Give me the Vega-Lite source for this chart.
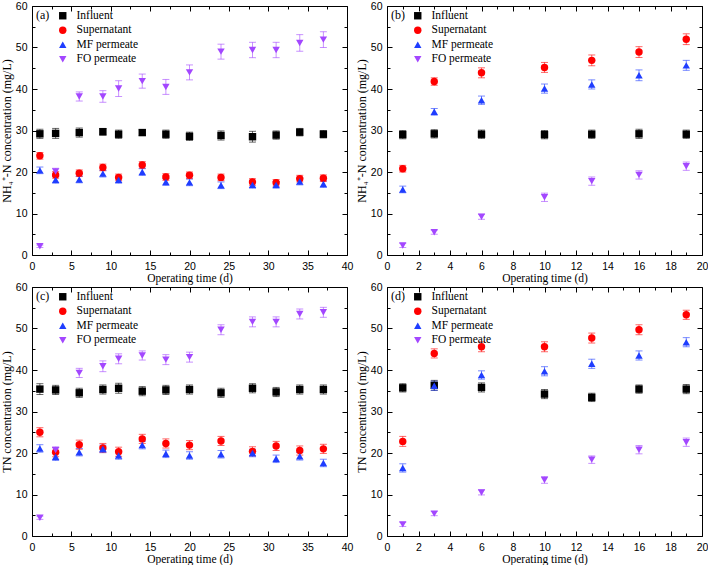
{
"$schema": "https://vega.github.io/schema/vega-lite/v6.json",
"padding": {"left": 0, "top": 1, "right": 0, "bottom": 0},
"background": "white",
"data": {"values": [
{"p":"a","s":"Influent","t":1,"v":29.2,"e":1.1},{"p":"a","s":"Influent","t":3,"v":29.3,"e":1.2},{"p":"a","s":"Influent","t":6,"v":29.5,"e":1.1},{"p":"a","s":"Influent","t":9,"v":29.7,"e":0.8},{"p":"a","s":"Influent","t":11,"v":29.1,"e":1.0},{"p":"a","s":"Influent","t":14,"v":29.5,"e":0.7},{"p":"a","s":"Influent","t":17,"v":29.1,"e":1.0},{"p":"a","s":"Influent","t":20,"v":28.6,"e":1.0},{"p":"a","s":"Influent","t":24,"v":28.8,"e":1.1},{"p":"a","s":"Influent","t":28,"v":28.5,"e":1.3},{"p":"a","s":"Influent","t":31,"v":28.9,"e":1.0},{"p":"a","s":"Influent","t":34,"v":29.6,"e":0.9},{"p":"a","s":"Influent","t":37,"v":29.1,"e":0.9},
{"p":"a","s":"Supernatant","t":1,"v":23.9,"e":0.8},{"p":"a","s":"Supernatant","t":3,"v":19.3,"e":0.8},{"p":"a","s":"Supernatant","t":6,"v":19.7,"e":0.8},{"p":"a","s":"Supernatant","t":9,"v":21.1,"e":0.8},{"p":"a","s":"Supernatant","t":11,"v":18.7,"e":0.8},{"p":"a","s":"Supernatant","t":14,"v":21.7,"e":0.8},{"p":"a","s":"Supernatant","t":17,"v":18.8,"e":0.8},{"p":"a","s":"Supernatant","t":20,"v":19.2,"e":0.8},{"p":"a","s":"Supernatant","t":24,"v":18.7,"e":0.8},{"p":"a","s":"Supernatant","t":28,"v":17.6,"e":0.8},{"p":"a","s":"Supernatant","t":31,"v":17.4,"e":0.8},{"p":"a","s":"Supernatant","t":34,"v":18.4,"e":0.8},{"p":"a","s":"Supernatant","t":37,"v":18.5,"e":0.8},
{"p":"a","s":"MF permeate","t":1,"v":20.4,"e":0.8},{"p":"a","s":"MF permeate","t":3,"v":18.1,"e":0.8},{"p":"a","s":"MF permeate","t":6,"v":18.2,"e":0.8},{"p":"a","s":"MF permeate","t":9,"v":19.6,"e":0.8},{"p":"a","s":"MF permeate","t":11,"v":18.1,"e":0.8},{"p":"a","s":"MF permeate","t":14,"v":20.0,"e":0.8},{"p":"a","s":"MF permeate","t":17,"v":17.6,"e":0.8},{"p":"a","s":"MF permeate","t":20,"v":17.5,"e":0.8},{"p":"a","s":"MF permeate","t":24,"v":16.8,"e":0.8},{"p":"a","s":"MF permeate","t":28,"v":16.9,"e":0.8},{"p":"a","s":"MF permeate","t":31,"v":16.9,"e":0.8},{"p":"a","s":"MF permeate","t":34,"v":17.7,"e":0.8},{"p":"a","s":"MF permeate","t":37,"v":17.1,"e":0.8},
{"p":"a","s":"FO permeate","t":1,"v":2.1,"e":0.3},{"p":"a","s":"FO permeate","t":3,"v":20.1,"e":0.8},{"p":"a","s":"FO permeate","t":6,"v":38.2,"e":1.1},{"p":"a","s":"FO permeate","t":9,"v":38.2,"e":1.4},{"p":"a","s":"FO permeate","t":11,"v":40.1,"e":1.9},{"p":"a","s":"FO permeate","t":14,"v":41.9,"e":1.7},{"p":"a","s":"FO permeate","t":17,"v":40.5,"e":1.8},{"p":"a","s":"FO permeate","t":20,"v":44.0,"e":1.8},{"p":"a","s":"FO permeate","t":24,"v":49.0,"e":1.8},{"p":"a","s":"FO permeate","t":28,"v":49.4,"e":1.85},{"p":"a","s":"FO permeate","t":31,"v":49.4,"e":1.85},{"p":"a","s":"FO permeate","t":34,"v":51.1,"e":2.0},{"p":"a","s":"FO permeate","t":37,"v":51.9,"e":1.9},
{"p":"b","s":"Influent","t":1,"v":29.0,"e":1.0},{"p":"b","s":"Influent","t":3,"v":29.2,"e":1.0},{"p":"b","s":"Influent","t":6,"v":29.1,"e":1.0},{"p":"b","s":"Influent","t":10,"v":29.0,"e":1.0},{"p":"b","s":"Influent","t":13,"v":29.1,"e":1.0},{"p":"b","s":"Influent","t":16,"v":29.2,"e":1.1},{"p":"b","s":"Influent","t":19,"v":29.1,"e":1.0},
{"p":"b","s":"Supernatant","t":1,"v":20.8,"e":0.8},{"p":"b","s":"Supernatant","t":3,"v":41.8,"e":0.9},{"p":"b","s":"Supernatant","t":6,"v":43.9,"e":1.2},{"p":"b","s":"Supernatant","t":10,"v":45.2,"e":1.2},{"p":"b","s":"Supernatant","t":13,"v":46.9,"e":1.3},{"p":"b","s":"Supernatant","t":16,"v":48.9,"e":1.3},{"p":"b","s":"Supernatant","t":19,"v":52.0,"e":1.3},
{"p":"b","s":"MF permeate","t":1,"v":15.8,"e":0.8},{"p":"b","s":"MF permeate","t":3,"v":34.5,"e":0.8},{"p":"b","s":"MF permeate","t":6,"v":37.3,"e":1.0},{"p":"b","s":"MF permeate","t":10,"v":40.1,"e":1.1},{"p":"b","s":"MF permeate","t":13,"v":41.1,"e":1.1},{"p":"b","s":"MF permeate","t":16,"v":43.3,"e":1.3},{"p":"b","s":"MF permeate","t":19,"v":45.7,"e":1.2},
{"p":"b","s":"FO permeate","t":1,"v":2.3,"e":0.5},{"p":"b","s":"FO permeate","t":3,"v":5.5,"e":0.5},{"p":"b","s":"FO permeate","t":6,"v":9.2,"e":0.6},{"p":"b","s":"FO permeate","t":10,"v":13.9,"e":1.0},{"p":"b","s":"FO permeate","t":13,"v":17.8,"e":1.0},{"p":"b","s":"FO permeate","t":16,"v":19.3,"e":1.0},{"p":"b","s":"FO permeate","t":19,"v":21.4,"e":1.0},
{"p":"c","s":"Influent","t":1,"v":35.4,"e":1.3},{"p":"c","s":"Influent","t":3,"v":35.2,"e":1.1},{"p":"c","s":"Influent","t":6,"v":34.5,"e":1.1},{"p":"c","s":"Influent","t":9,"v":35.3,"e":1.1},{"p":"c","s":"Influent","t":11,"v":35.6,"e":1.2},{"p":"c","s":"Influent","t":14,"v":34.9,"e":1.1},{"p":"c","s":"Influent","t":17,"v":35.2,"e":1.1},{"p":"c","s":"Influent","t":20,"v":35.3,"e":1.1},{"p":"c","s":"Influent","t":24,"v":34.5,"e":1.1},{"p":"c","s":"Influent","t":28,"v":35.6,"e":1.1},{"p":"c","s":"Influent","t":31,"v":34.7,"e":1.1},{"p":"c","s":"Influent","t":34,"v":35.3,"e":1.1},{"p":"c","s":"Influent","t":37,"v":35.3,"e":1.1},
{"p":"c","s":"Supernatant","t":1,"v":25.0,"e":1.1},{"p":"c","s":"Supernatant","t":3,"v":20.2,"e":1.1},{"p":"c","s":"Supernatant","t":6,"v":22.0,"e":1.1},{"p":"c","s":"Supernatant","t":9,"v":21.2,"e":1.1},{"p":"c","s":"Supernatant","t":11,"v":20.3,"e":1.1},{"p":"c","s":"Supernatant","t":14,"v":23.4,"e":1.1},{"p":"c","s":"Supernatant","t":17,"v":22.3,"e":1.1},{"p":"c","s":"Supernatant","t":20,"v":21.9,"e":1.1},{"p":"c","s":"Supernatant","t":24,"v":22.9,"e":1.1},{"p":"c","s":"Supernatant","t":28,"v":20.4,"e":1.1},{"p":"c","s":"Supernatant","t":31,"v":21.7,"e":1.1},{"p":"c","s":"Supernatant","t":34,"v":20.6,"e":1.1},{"p":"c","s":"Supernatant","t":37,"v":21.0,"e":1.1},
{"p":"c","s":"MF permeate","t":1,"v":21.1,"e":0.9},{"p":"c","s":"MF permeate","t":3,"v":19.1,"e":0.9},{"p":"c","s":"MF permeate","t":6,"v":20.2,"e":0.9},{"p":"c","s":"MF permeate","t":9,"v":21.0,"e":0.9},{"p":"c","s":"MF permeate","t":11,"v":19.4,"e":0.9},{"p":"c","s":"MF permeate","t":14,"v":21.9,"e":0.9},{"p":"c","s":"MF permeate","t":17,"v":19.8,"e":0.9},{"p":"c","s":"MF permeate","t":20,"v":19.4,"e":0.9},{"p":"c","s":"MF permeate","t":24,"v":19.7,"e":0.9},{"p":"c","s":"MF permeate","t":28,"v":20.0,"e":0.9},{"p":"c","s":"MF permeate","t":31,"v":18.6,"e":0.9},{"p":"c","s":"MF permeate","t":34,"v":19.2,"e":0.9},{"p":"c","s":"MF permeate","t":37,"v":17.6,"e":0.9},
{"p":"c","s":"FO permeate","t":1,"v":4.4,"e":0.4},{"p":"c","s":"FO permeate","t":3,"v":20.7,"e":0.8},{"p":"c","s":"FO permeate","t":6,"v":39.3,"e":1.1},{"p":"c","s":"FO permeate","t":9,"v":40.9,"e":1.3},{"p":"c","s":"FO permeate","t":11,"v":42.7,"e":1.2},{"p":"c","s":"FO permeate","t":14,"v":43.5,"e":1.1},{"p":"c","s":"FO permeate","t":17,"v":42.5,"e":1.2},{"p":"c","s":"FO permeate","t":20,"v":43.1,"e":1.2},{"p":"c","s":"FO permeate","t":24,"v":49.7,"e":1.2},{"p":"c","s":"FO permeate","t":28,"v":51.6,"e":1.2},{"p":"c","s":"FO permeate","t":31,"v":51.6,"e":1.2},{"p":"c","s":"FO permeate","t":34,"v":53.5,"e":1.2},{"p":"c","s":"FO permeate","t":37,"v":53.9,"e":1.2},
{"p":"d","s":"Influent","t":1,"v":35.7,"e":1.0},{"p":"d","s":"Influent","t":3,"v":36.3,"e":1.2},{"p":"d","s":"Influent","t":6,"v":35.8,"e":1.1},{"p":"d","s":"Influent","t":10,"v":34.2,"e":1.1},{"p":"d","s":"Influent","t":13,"v":33.4,"e":1.0},{"p":"d","s":"Influent","t":16,"v":35.4,"e":1.0},{"p":"d","s":"Influent","t":19,"v":35.4,"e":1.1},
{"p":"d","s":"Supernatant","t":1,"v":22.8,"e":1.2},{"p":"d","s":"Supernatant","t":3,"v":44.0,"e":1.1},{"p":"d","s":"Supernatant","t":6,"v":45.6,"e":1.2},{"p":"d","s":"Supernatant","t":10,"v":45.6,"e":1.2},{"p":"d","s":"Supernatant","t":13,"v":47.7,"e":1.2},{"p":"d","s":"Supernatant","t":16,"v":49.7,"e":1.2},{"p":"d","s":"Supernatant","t":19,"v":53.3,"e":1.1},
{"p":"d","s":"MF permeate","t":1,"v":16.4,"e":1.0},{"p":"d","s":"MF permeate","t":3,"v":36.2,"e":1.1},{"p":"d","s":"MF permeate","t":6,"v":38.8,"e":1.0},{"p":"d","s":"MF permeate","t":10,"v":39.7,"e":1.1},{"p":"d","s":"MF permeate","t":13,"v":41.5,"e":1.1},{"p":"d","s":"MF permeate","t":16,"v":43.5,"e":1.1},{"p":"d","s":"MF permeate","t":19,"v":46.7,"e":1.1},
{"p":"d","s":"FO permeate","t":1,"v":2.8,"e":0.5},{"p":"d","s":"FO permeate","t":3,"v":5.4,"e":0.5},{"p":"d","s":"FO permeate","t":6,"v":10.5,"e":0.6},{"p":"d","s":"FO permeate","t":10,"v":13.5,"e":0.8},{"p":"d","s":"FO permeate","t":13,"v":18.4,"e":0.9},{"p":"d","s":"FO permeate","t":16,"v":20.8,"e":1.0},{"p":"d","s":"FO permeate","t":19,"v":22.6,"e":1.0}
]},
"columns": 2,
"spacing": {"row": 32, "column": 40},
"bounds": "flush",
"resolve": {"scale": {"color": "independent", "shape": "independent"}},
"concat": [
{"width": 315, "height": 249, "transform": [{"filter": "datum.p === 'a'"}],
 "layer": [
  {"mark": {"type": "errorbar", "ticks": {"size": 7, "opacity": 0.6}, "rule": {"opacity": 0.6}},
   "encoding": {
    "x": {"field": "t", "type": "quantitative", "scale": {"domain": [0, 40], "nice": false}, "axis": {"orient": "bottom", "values": [0,5,10,15,20,25,30,35,40], "title": "Operating time (d)"}},
    "y": {"field": "v", "type": "quantitative", "scale": {"domain": [0, 60], "nice": false}, "axis": {"orient": "left", "values": [0,10,20,30,40,50,60], "title": "NH₄⁺-N concentration (mg/L)"}},
    "yError": {"field": "e"},
    "color": {"field": "s", "type": "nominal", "scale": {"domain": ["Influent","Supernatant","MF permeate","FO permeate"], "range": ["#000000","#ff0000","#1f3dff","#a347ff"]}, "legend": null}}},
  {"mark": {"type": "point", "filled": true, "size": 55, "opacity": 1},
   "encoding": {
    "x": {"field": "t", "type": "quantitative", "axis": {"orient": "top", "values": [0,5,10,15,20,25,30,35,40], "labels": false, "title": null}},
    "y": {"field": "v", "type": "quantitative", "axis": {"orient": "right", "values": [0,10,20,30,40,50,60], "labels": false, "title": null}},
    "color": {"field": "s", "type": "nominal", "scale": {"domain": ["Influent","Supernatant","MF permeate","FO permeate"], "range": ["#000000","#ff0000","#1f3dff","#a347ff"]}, "legend": {"title": "(a)"}},
    "shape": {"field": "s", "type": "nominal", "scale": {"domain": ["Influent","Supernatant","MF permeate","FO permeate"], "range": ["square","circle","triangle-up","triangle-down"]}, "legend": {"title": "(a)"}}}},
  {"mark": {"type": "point", "opacity": 0},
   "encoding": {
    "x": {"field": "t", "type": "quantitative", "axis": {"orient": "bottom", "values": [2.5,7.5,12.5,17.5,22.5,27.5,32.5,37.5], "labels": false, "domain": false, "title": null, "tickSize": -3}},
    "y": {"field": "v", "type": "quantitative", "axis": {"orient": "left", "values": [5,15,25,35,45,55], "labels": false, "domain": false, "title": null, "tickSize": -3}}}},
  {"mark": {"type": "point", "opacity": 0},
   "encoding": {
    "x": {"field": "t", "type": "quantitative", "axis": {"orient": "top", "values": [2.5,7.5,12.5,17.5,22.5,27.5,32.5,37.5], "labels": false, "domain": false, "title": null, "tickSize": -3}},
    "y": {"field": "v", "type": "quantitative", "axis": {"orient": "right", "values": [5,15,25,35,45,55], "labels": false, "domain": false, "title": null, "tickSize": -3}}}}
 ],
 "resolve": {"axis": {"x": "independent", "y": "independent"}, "scale": {"color": "independent", "shape": "independent"}}},
{"width": 315, "height": 249, "transform": [{"filter": "datum.p === 'b'"}],
 "layer": [
  {"mark": {"type": "errorbar", "ticks": {"size": 7, "opacity": 0.6}, "rule": {"opacity": 0.6}},
   "encoding": {
    "x": {"field": "t", "type": "quantitative", "scale": {"domain": [0, 20], "nice": false}, "axis": {"orient": "bottom", "values": [0,2,4,6,8,10,12,14,16,18,20], "title": "Operating time (d)"}},
    "y": {"field": "v", "type": "quantitative", "scale": {"domain": [0, 60], "nice": false}, "axis": {"orient": "left", "values": [0,10,20,30,40,50,60], "title": "NH₄⁺-N concentration (mg/L)"}},
    "yError": {"field": "e"},
    "color": {"field": "s", "type": "nominal", "scale": {"domain": ["Influent","Supernatant","MF permeate","FO permeate"], "range": ["#000000","#ff0000","#1f3dff","#a347ff"]}, "legend": null}}},
  {"mark": {"type": "point", "filled": true, "size": 55, "opacity": 1},
   "encoding": {
    "x": {"field": "t", "type": "quantitative", "axis": {"orient": "top", "values": [0,2,4,6,8,10,12,14,16,18,20], "labels": false, "title": null}},
    "y": {"field": "v", "type": "quantitative", "axis": {"orient": "right", "values": [0,10,20,30,40,50,60], "labels": false, "title": null}},
    "color": {"field": "s", "type": "nominal", "scale": {"domain": ["Influent","Supernatant","MF permeate","FO permeate"], "range": ["#000000","#ff0000","#1f3dff","#a347ff"]}, "legend": {"title": "(b)"}},
    "shape": {"field": "s", "type": "nominal", "scale": {"domain": ["Influent","Supernatant","MF permeate","FO permeate"], "range": ["square","circle","triangle-up","triangle-down"]}, "legend": {"title": "(b)"}}}},
  {"mark": {"type": "point", "opacity": 0},
   "encoding": {
    "x": {"field": "t", "type": "quantitative", "axis": {"orient": "bottom", "values": [1,3,5,7,9,11,13,15,17,19], "labels": false, "domain": false, "title": null, "tickSize": -3}},
    "y": {"field": "v", "type": "quantitative", "axis": {"orient": "left", "values": [5,15,25,35,45,55], "labels": false, "domain": false, "title": null, "tickSize": -3}}}},
  {"mark": {"type": "point", "opacity": 0},
   "encoding": {
    "x": {"field": "t", "type": "quantitative", "axis": {"orient": "top", "values": [1,3,5,7,9,11,13,15,17,19], "labels": false, "domain": false, "title": null, "tickSize": -3}},
    "y": {"field": "v", "type": "quantitative", "axis": {"orient": "right", "values": [5,15,25,35,45,55], "labels": false, "domain": false, "title": null, "tickSize": -3}}}}
 ],
 "resolve": {"axis": {"x": "independent", "y": "independent"}, "scale": {"color": "independent", "shape": "independent"}}},
{"width": 315, "height": 249, "transform": [{"filter": "datum.p === 'c'"}],
 "layer": [
  {"mark": {"type": "errorbar", "ticks": {"size": 7, "opacity": 0.6}, "rule": {"opacity": 0.6}},
   "encoding": {
    "x": {"field": "t", "type": "quantitative", "scale": {"domain": [0, 40], "nice": false}, "axis": {"orient": "bottom", "values": [0,5,10,15,20,25,30,35,40], "title": "Operating time (d)"}},
    "y": {"field": "v", "type": "quantitative", "scale": {"domain": [0, 60], "nice": false}, "axis": {"orient": "left", "values": [0,10,20,30,40,50,60], "title": "TN concentration (mg/L)"}},
    "yError": {"field": "e"},
    "color": {"field": "s", "type": "nominal", "scale": {"domain": ["Influent","Supernatant","MF permeate","FO permeate"], "range": ["#000000","#ff0000","#1f3dff","#a347ff"]}, "legend": null}}},
  {"mark": {"type": "point", "filled": true, "size": 55, "opacity": 1},
   "encoding": {
    "x": {"field": "t", "type": "quantitative", "axis": {"orient": "top", "values": [0,5,10,15,20,25,30,35,40], "labels": false, "title": null}},
    "y": {"field": "v", "type": "quantitative", "axis": {"orient": "right", "values": [0,10,20,30,40,50,60], "labels": false, "title": null}},
    "color": {"field": "s", "type": "nominal", "scale": {"domain": ["Influent","Supernatant","MF permeate","FO permeate"], "range": ["#000000","#ff0000","#1f3dff","#a347ff"]}, "legend": {"title": "(c)"}},
    "shape": {"field": "s", "type": "nominal", "scale": {"domain": ["Influent","Supernatant","MF permeate","FO permeate"], "range": ["square","circle","triangle-up","triangle-down"]}, "legend": {"title": "(c)"}}}},
  {"mark": {"type": "point", "opacity": 0},
   "encoding": {
    "x": {"field": "t", "type": "quantitative", "axis": {"orient": "bottom", "values": [2.5,7.5,12.5,17.5,22.5,27.5,32.5,37.5], "labels": false, "domain": false, "title": null, "tickSize": -3}},
    "y": {"field": "v", "type": "quantitative", "axis": {"orient": "left", "values": [5,15,25,35,45,55], "labels": false, "domain": false, "title": null, "tickSize": -3}}}},
  {"mark": {"type": "point", "opacity": 0},
   "encoding": {
    "x": {"field": "t", "type": "quantitative", "axis": {"orient": "top", "values": [2.5,7.5,12.5,17.5,22.5,27.5,32.5,37.5], "labels": false, "domain": false, "title": null, "tickSize": -3}},
    "y": {"field": "v", "type": "quantitative", "axis": {"orient": "right", "values": [5,15,25,35,45,55], "labels": false, "domain": false, "title": null, "tickSize": -3}}}}
 ],
 "resolve": {"axis": {"x": "independent", "y": "independent"}, "scale": {"color": "independent", "shape": "independent"}}},
{"width": 315, "height": 249, "transform": [{"filter": "datum.p === 'd'"}],
 "layer": [
  {"mark": {"type": "errorbar", "ticks": {"size": 7, "opacity": 0.6}, "rule": {"opacity": 0.6}},
   "encoding": {
    "x": {"field": "t", "type": "quantitative", "scale": {"domain": [0, 20], "nice": false}, "axis": {"orient": "bottom", "values": [0,2,4,6,8,10,12,14,16,18,20], "title": "Operating time (d)"}},
    "y": {"field": "v", "type": "quantitative", "scale": {"domain": [0, 60], "nice": false}, "axis": {"orient": "left", "values": [0,10,20,30,40,50,60], "title": "TN concentration (mg/L)"}},
    "yError": {"field": "e"},
    "color": {"field": "s", "type": "nominal", "scale": {"domain": ["Influent","Supernatant","MF permeate","FO permeate"], "range": ["#000000","#ff0000","#1f3dff","#a347ff"]}, "legend": null}}},
  {"mark": {"type": "point", "filled": true, "size": 55, "opacity": 1},
   "encoding": {
    "x": {"field": "t", "type": "quantitative", "axis": {"orient": "top", "values": [0,2,4,6,8,10,12,14,16,18,20], "labels": false, "title": null}},
    "y": {"field": "v", "type": "quantitative", "axis": {"orient": "right", "values": [0,10,20,30,40,50,60], "labels": false, "title": null}},
    "color": {"field": "s", "type": "nominal", "scale": {"domain": ["Influent","Supernatant","MF permeate","FO permeate"], "range": ["#000000","#ff0000","#1f3dff","#a347ff"]}, "legend": {"title": "(d)"}},
    "shape": {"field": "s", "type": "nominal", "scale": {"domain": ["Influent","Supernatant","MF permeate","FO permeate"], "range": ["square","circle","triangle-up","triangle-down"]}, "legend": {"title": "(d)"}}}},
  {"mark": {"type": "point", "opacity": 0},
   "encoding": {
    "x": {"field": "t", "type": "quantitative", "axis": {"orient": "bottom", "values": [1,3,5,7,9,11,13,15,17,19], "labels": false, "domain": false, "title": null, "tickSize": -3}},
    "y": {"field": "v", "type": "quantitative", "axis": {"orient": "left", "values": [5,15,25,35,45,55], "labels": false, "domain": false, "title": null, "tickSize": -3}}}},
  {"mark": {"type": "point", "opacity": 0},
   "encoding": {
    "x": {"field": "t", "type": "quantitative", "axis": {"orient": "top", "values": [1,3,5,7,9,11,13,15,17,19], "labels": false, "domain": false, "title": null, "tickSize": -3}},
    "y": {"field": "v", "type": "quantitative", "axis": {"orient": "right", "values": [5,15,25,35,45,55], "labels": false, "domain": false, "title": null, "tickSize": -3}}}}
 ],
 "resolve": {"axis": {"x": "independent", "y": "independent"}, "scale": {"color": "independent", "shape": "independent"}}}
],
"config": {
 "view": {"stroke": null},
 "axis": {"grid": false, "domainColor": "#000000", "domainWidth": 1, "tickColor": "#000000", "tickWidth": 1, "tickSize": -5, "labelFont": "Liberation Sans", "labelFontSize": 10.5, "labelColor": "#000000", "labelPadding": 11, "labelFlush": false, "labelOverlap": false, "titleFont": "Liberation Serif", "titleFontSize": 12, "titleFontWeight": "normal", "titleColor": "#000000"},
 "axisX": {"titlePadding": 1, "titleFontSize": 11.5},
 "axisY": {"labelPadding": 10, "titlePadding": 2},
 "legend": {"orient": "top-left", "offset": 4, "padding": 0, "titleOrient": "left", "titleAnchor": "start", "titleFont": "Liberation Serif", "titleFontSize": 12, "titleFontWeight": "normal", "titleColor": "#000000", "titlePadding": 7, "labelFont": "Liberation Serif", "labelFontSize": 11.5, "labelColor": "#000000", "labelOffset": 8, "rowPadding": 1.5, "symbolSize": 55, "symbolStrokeWidth": 0, "symbolOpacity": 1}
}
}
